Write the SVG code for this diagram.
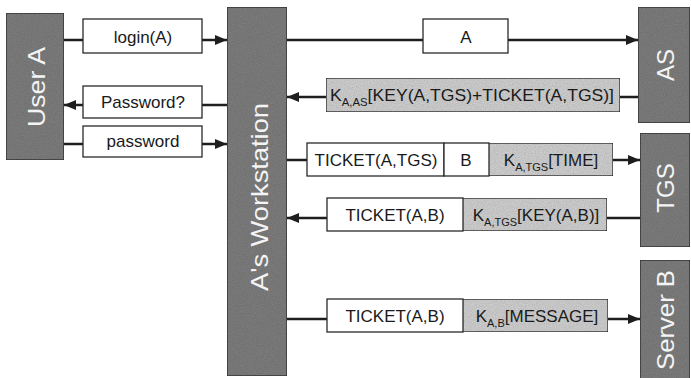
<svg xmlns="http://www.w3.org/2000/svg" width="691" height="378" viewBox="0 0 691 378">
<style>
.node{fill:#818181;stroke:#3a3a3a;stroke-width:1.5}
.nlabel{font-family:"Liberation Sans",Arial,sans-serif;font-size:24px;fill:#f4f4f4;text-anchor:middle;dominant-baseline:central}
.msg{fill:#ffffff;stroke:#2a2a2a;stroke-width:1.3}
.enc{fill:#d6d6d6;stroke:#2a2a2a;stroke-width:1.3}
.t{font-family:"Liberation Sans",Arial,sans-serif;font-size:17px;fill:#1a1a1a;text-anchor:middle}
.sub{font-size:11px}
.conn{stroke:#1e1e1e;stroke-width:2.6;fill:none;marker-end:url(#ah)}
</style>
<defs>
<filter id="grain" x="0" y="0" width="100%" height="100%">
<feTurbulence type="fractalNoise" baseFrequency="0.9" numOctaves="2" seed="3" result="n"/>
<feColorMatrix in="n" type="matrix" values="0 0 0 0 0  0 0 0 0 0  0 0 0 0 0  0 0 0 0.35 0" result="d"/>
<feComposite in="d" in2="SourceGraphic" operator="atop"/>
</filter>
<marker id="ah" viewBox="0 0 12 10" refX="12" refY="5" markerWidth="12" markerHeight="10" markerUnits="userSpaceOnUse" orient="auto">
<path d="M0,0 L12,5 L0,10 Z" fill="#1e1e1e"/>
</marker>
</defs>
<rect width="691" height="378" fill="#ffffff"/>

<g id="connectors">
<line class="conn" x1="64" y1="40" x2="227" y2="40"/>
<line class="conn" x1="227" y1="105" x2="64" y2="105"/>
<line class="conn" x1="64" y1="144" x2="227" y2="144"/>
<line class="conn" x1="287" y1="40" x2="638" y2="40"/>
<line class="conn" x1="638" y1="97" x2="287" y2="97"/>
<line class="conn" x1="287" y1="160" x2="640" y2="160"/>
<line class="conn" x1="640" y1="218" x2="287" y2="218"/>
<line class="conn" x1="287" y1="319" x2="640" y2="319"/>
</g>

<g id="user-a">
<rect class="node" x="6" y="13" width="58" height="147" filter="url(#grain)"/>
<text class="nlabel" transform="translate(36,87) rotate(-90)" textLength="80" lengthAdjust="spacingAndGlyphs">User A</text>
</g>
<g id="workstation">
<rect class="node" x="227" y="7" width="60" height="369" filter="url(#grain)"/>
<text class="nlabel" transform="translate(259,197) rotate(-90)" textLength="188" lengthAdjust="spacingAndGlyphs">A's Workstation</text>
</g>
<g id="as">
<rect class="node" x="638" y="7" width="52" height="116" filter="url(#grain)"/>
<text class="nlabel" transform="translate(665,65) rotate(-90)">AS</text>
</g>
<g id="tgs">
<rect class="node" x="640" y="133" width="50" height="114" filter="url(#grain)"/>
<text class="nlabel" transform="translate(665,188) rotate(-90)">TGS</text>
</g>
<g id="server-b">
<rect class="node" x="640" y="260" width="50" height="120" filter="url(#grain)"/>
<text class="nlabel" transform="translate(665,320) rotate(-90)" textLength="100" lengthAdjust="spacingAndGlyphs">Server B</text>
</g>

<g id="msg-login">
<rect class="msg" x="83" y="19" width="119" height="34"/>
<text class="t" x="143" y="43">login(A)</text>
</g>
<g id="msg-password-q">
<rect class="msg" x="83" y="86" width="119" height="32"/>
<text class="t" x="143" y="108">Password?</text>
</g>
<g id="msg-password">
<rect class="msg" x="83" y="126" width="119" height="31"/>
<text class="t" x="143" y="147">password</text>
</g>
<g id="msg-a">
<rect class="msg" x="423" y="19" width="85" height="34"/>
<text class="t" x="466" y="43">A</text>
</g>
<g id="msg-as-reply">
<rect class="enc" x="326" y="78" width="294" height="34" filter="url(#grain)"/>
<text class="t" x="472" y="101" textLength="284" lengthAdjust="spacingAndGlyphs">K<tspan class="sub" dy="5">A,AS</tspan><tspan dy="-5">[KEY(A,TGS)+TICKET(A,TGS)]</tspan></text>
</g>
<g id="msg-tgs-request">
<rect class="msg" x="307" y="143" width="137" height="33"/>
<text class="t" x="376" y="166">TICKET(A,TGS)</text>
<rect class="msg" x="444" y="143" width="45" height="33"/>
<text class="t" x="466" y="166">B</text>
<rect class="enc" x="489" y="143" width="124" height="33" filter="url(#grain)"/>
<text class="t" x="551" y="166">K<tspan class="sub" dy="5">A,TGS</tspan><tspan dy="-5">[TIME]</tspan></text>
</g>
<g id="msg-tgs-reply">
<rect class="msg" x="327" y="198" width="136" height="33"/>
<text class="t" x="395" y="221">TICKET(A,B)</text>
<rect class="enc" x="463" y="198" width="144" height="33" filter="url(#grain)"/>
<text class="t" x="536" y="221">K<tspan class="sub" dy="5">A,TGS</tspan><tspan dy="-5">[KEY(A,B)]</tspan></text>
</g>
<g id="msg-server-request">
<rect class="msg" x="327" y="299" width="136" height="33"/>
<text class="t" x="395" y="322">TICKET(A,B)</text>
<rect class="enc" x="463" y="299" width="145" height="33" filter="url(#grain)"/>
<text class="t" x="537" y="322">K<tspan class="sub" dy="5">A,B</tspan><tspan dy="-5">[MESSAGE]</tspan></text>
</g>
</svg>
